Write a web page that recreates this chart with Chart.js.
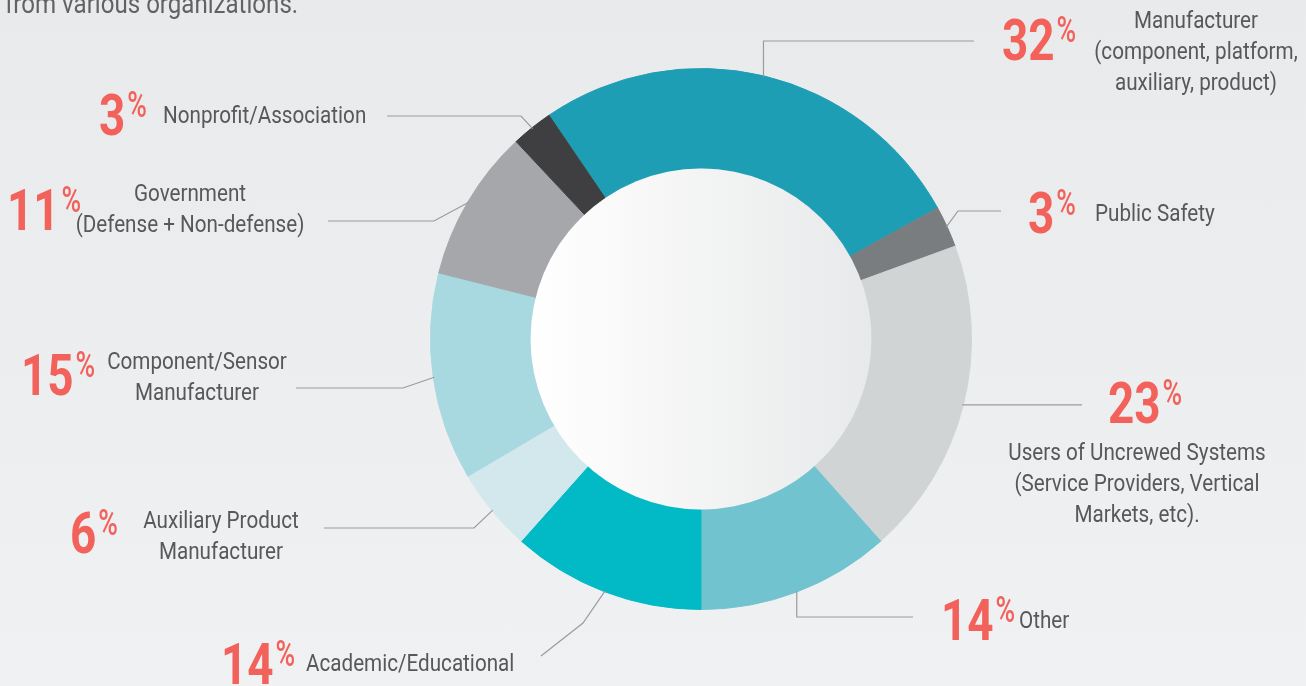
<!DOCTYPE html>
<html>
<head>
<meta charset="utf-8">
<script src="https://cdn.jsdelivr.net/npm/chart.js@4.4.1/dist/chart.umd.min.js"></script>
<style>
  html, body { margin: 0; padding: 0; }
  body { width: 1306px; height: 686px; overflow: hidden; background: linear-gradient(#e9eaec, #f0f1f2); }
</style>
</head>
<body>
<canvas id="chart" width="1306" height="686"></canvas>
<script>
// Respondents by organization type (share in %, as printed next to each slice)
const categories = [
  'Manufacturer (component, platform, auxiliary, product)',
  'Public Safety',
  'Users of Uncrewed Systems (Service Providers, Vertical Markets, etc).',
  'Other',
  'Academic/Educational',
  'Auxiliary Product Manufacturer',
  'Component/Sensor Manufacturer',
  'Government (Defense + Non-defense)',
  'Nonprofit/Association'
];
const shares = [32, 3, 23, 14, 14, 6, 15, 11, 3];
const labelLines = [
  ['Manufacturer', '(component, platform,', 'auxiliary, product)'],
  ['Public Safety'],
  ['Users of Uncrewed Systems', '(Service Providers, Vertical', 'Markets, etc).'],
  ['Other'],
  ['Academic/Educational'],
  ['Auxiliary Product', 'Manufacturer'],
  ['Component/Sensor', 'Manufacturer'],
  ['Government', '(Defense + Non-defense)'],
  ['Nonprofit/Association']
];
const sliceColors = ['#1e9eb4', '#7a7d80', '#d0d4d5', '#71c3d0', '#02b9c6', '#d2e8ed', '#a8d9e0', '#a6a7aa', '#3f3f41'];

// where each callout goes (leader line bends, number and text anchors)
const calloutLayout = [
  { path: [[null, 41], [974, 41]], pct: [1002, 60], text: { x: 1196, y: 28, align: 'center' } },
  { path: [[958, 211], [1001, 211]], pct: [1028, 233], text: { x: 1095, y: 221, align: 'left' } },
  { path: [[1082, null]], pct: [1108, 423], text: { x: 1137, y: 460, align: 'center' } },
  { path: [[null, 617], [913, 617]], pct: [941, 640], text: { x: 1019, y: 628, align: 'left' } },
  { path: [[583, 623], [541, 656]], pct: [221, 684], text: { x: 306, y: 671, align: 'left' } },
  { path: [[474, 528], [324, 528]], pct: [70, 553], text: { x: 221, y: 528, align: 'center' } },
  { path: [[403, 388], [296, 388]], pct: [21, 395], text: { x: 197, y: 369, align: 'center' } },
  { path: [[434, 221], [328, 221]], pct: [7, 230], text: { x: 190, y: 201, align: 'center' } },
  { path: [[521, 116], [387, 116]], pct: [99, 135], text: { x: 163, y: 123, align: 'left' } }
];

// condensed face if we have one, otherwise squeeze Roboto
function pickFont() {
  const c = document.createElement('canvas').getContext('2d');
  const s = 'Nonprofit/Association';
  c.font = '24px monospace';
  const m = c.measureText(s).width;
  c.font = '24px "Liberation Sans Narrow", monospace';
  const n = c.measureText(s).width;
  return Math.abs(n - m) > 1
    ? { family: '"Liberation Sans Narrow"', sx: 1, num: 1, pct: 0.9 }
    : { family: 'Roboto', sx: 0.86, num: 0.79, pct: 0.72 };
}
const face = pickFont();

function squeezedText(ctx, str, x, y, font, color, align, sx) {
  const k = sx || face.sx;
  ctx.save();
  ctx.font = font;
  ctx.fillStyle = color;
  ctx.textAlign = align || 'left';
  ctx.textBaseline = 'alphabetic';
  ctx.translate(x, y);
  ctx.scale(k, 1);
  ctx.fillText(str, 0, 0);
  const w = ctx.measureText(str).width * k;
  ctx.restore();
  return w;
}

const callouts = {
  id: 'callouts',
  afterDatasetsDraw(chart) {
    const ctx = chart.ctx;
    const arcs = chart.getDatasetMeta(0).data;
    const first = arcs[0];

    // hole with soft left-to-right shading
    const g = ctx.createLinearGradient(first.x - first.innerRadius, 0, first.x + first.innerRadius, 0);
    g.addColorStop(0, '#ffffff');
    g.addColorStop(1, '#e8e9ea');
    ctx.save();
    ctx.beginPath();
    ctx.arc(first.x, first.y, first.innerRadius, 0, Math.PI * 2);
    ctx.fillStyle = g;
    ctx.fill();
    ctx.restore();

    // header line cut off at the top
    squeezedText(ctx, 'from various organizations.', 5, 13, '28px ' + face.family, '#626264');

    arcs.forEach((arc, i) => {
      const lay = calloutLayout[i];
      const mid = (arc.startAngle + arc.endAngle) / 2;
      const r = arc.outerRadius - 1;
      let px = arc.x + Math.cos(mid) * r;
      let py = arc.y + Math.sin(mid) * r;

      ctx.save();
      ctx.strokeStyle = '#9a9b9d';
      ctx.lineWidth = 1.2;
      ctx.beginPath();
      ctx.moveTo(px, py);
      lay.path.forEach(p => {
        px = p[0] === null ? px : p[0];
        py = p[1] === null ? py : p[1];
        ctx.lineTo(px, py);
      });
      ctx.stroke();
      ctx.restore();

      // big percentage with raised % sign
      const nw = squeezedText(ctx, String(shares[i]), lay.pct[0], lay.pct[1], 'bold 58px ' + face.family, '#f2615a', 'left', face.num);
      squeezedText(ctx, '%', lay.pct[0] + nw + 2, lay.pct[1] - 18, '500 37px ' + face.family, '#f2615a', 'left', face.pct);

      labelLines[i].forEach((line, k) => {
        squeezedText(ctx, line, lay.text.x, lay.text.y + k * 31, '24px ' + face.family, '#58585a', lay.text.align);
      });
    });
  }
};

new Chart(document.getElementById('chart').getContext('2d'), {
  type: 'doughnut',
  data: {
    labels: categories,
    datasets: [{
      data: shares,
      backgroundColor: sliceColors,
      borderColor: sliceColors,
      borderWidth: 1
    }]
  },
  options: {
    responsive: false,
    animation: false,
    rotation: -34.2,
    cutout: '63%',
    layout: { padding: { top: 68, bottom: 76, left: 430, right: 334 } },
    plugins: {
      legend: { display: false },
      tooltip: { enabled: false }
    }
  },
  plugins: [callouts]
});
</script>
</body>
</html>
